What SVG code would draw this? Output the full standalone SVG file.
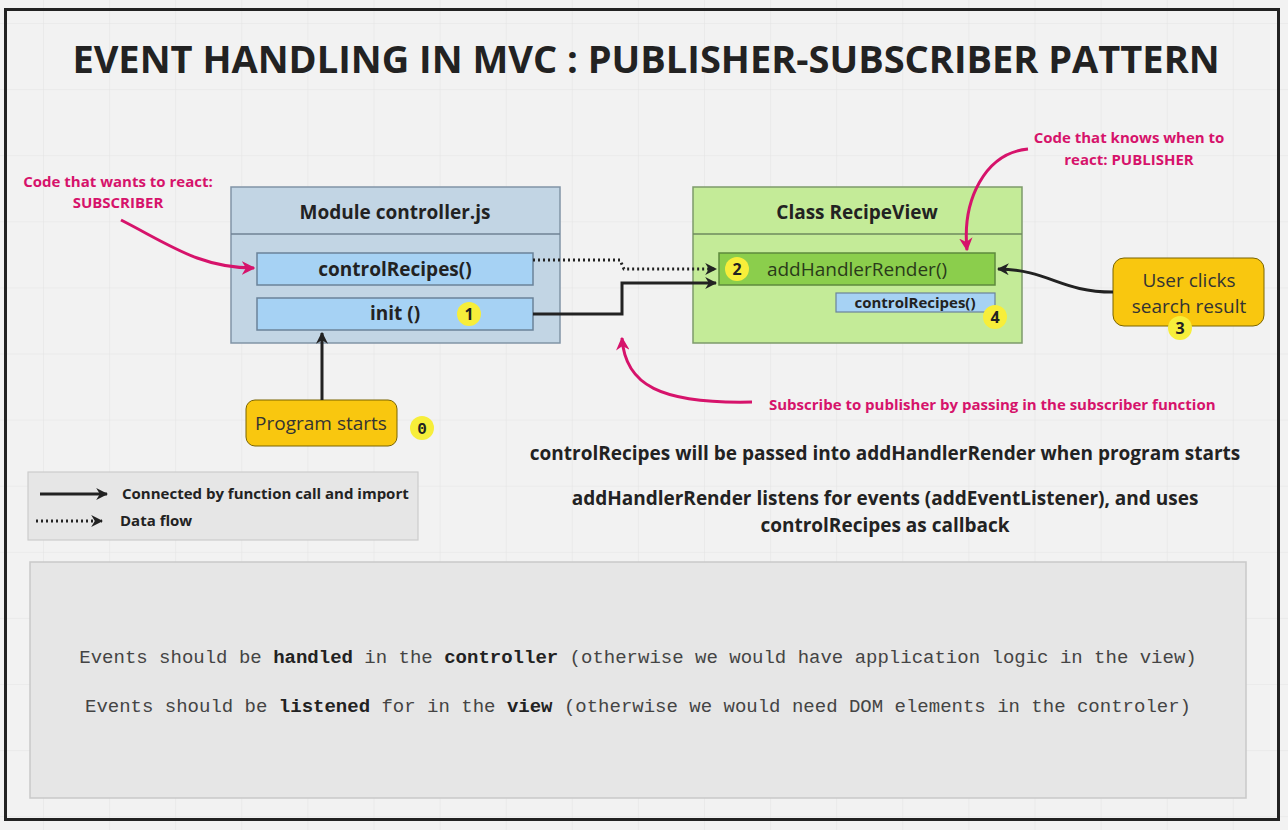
<svg xmlns="http://www.w3.org/2000/svg" width="1288" height="830" viewBox="0 0 1288 830">
<defs>
<pattern id="grid" x="43" y="23" width="66.1" height="66.1" patternUnits="userSpaceOnUse">
<path d="M0,0 V66.1 M0,0 H66.1" fill="none" stroke="#e4e4e4" stroke-width="1.2"/>
</pattern>
<marker id="ab" viewBox="0 0 10 10" refX="9" refY="5" markerWidth="4" markerHeight="4" orient="auto" markerUnits="strokeWidth">
<path d="M0,0 L10,5 L0,10 L3,5 z" fill="#222"/>
</marker>
<marker id="ap" viewBox="0 0 10 10" refX="9" refY="5" markerWidth="4.5" markerHeight="4.5" orient="auto" markerUnits="strokeWidth">
<path d="M0,0 L10,5 L0,10 L3,5 z" fill="#d6136b"/>
</marker>
<style>
.sans{font-family:"Open Sans","Noto Sans","Liberation Sans",sans-serif}
.mono{font-family:"Liberation Mono","DejaVu Sans Mono",monospace}
.hdr{font-size:19px;font-weight:700;fill:#222;text-anchor:middle}
.pink{font-size:15px;font-weight:700;fill:#d6136b;text-anchor:middle}
.mid{font-size:19px;font-weight:700;fill:#222;text-anchor:middle}
.badge{fill:#f7ee3a}
.bt{font-size:16px;font-weight:700;fill:#222;text-anchor:middle}
.blk{fill:none;stroke:#222;stroke-width:3}
.dot{fill:none;stroke:#222;stroke-width:3;stroke-dasharray:2 3}
.pk{fill:none;stroke:#d6136b;stroke-width:3}
.yb{fill:#f9c70f;stroke:#7a6400;stroke-width:1}
.yt{font-size:19px;fill:#333;text-anchor:middle}
</style>
</defs>
<rect x="0" y="0" width="1288" height="830" fill="#f2f2f2"/>
<rect x="0" y="0" width="1288" height="830" fill="url(#grid)"/>
<rect x="5.5" y="9.5" width="1273" height="810" fill="none" stroke="#222" stroke-width="3"/>

<text class="sans" x="646" y="73" font-size="38" font-weight="700" fill="#222" text-anchor="middle">EVENT HANDLING IN MVC : PUBLISHER-SUBSCRIBER PATTERN</text>

<g id="controller">
<rect x="231" y="187" width="329" height="156" fill="#c2d5e4" stroke="#8194a6" stroke-width="1.5"/>
<line x1="231" y1="234" x2="560" y2="234" stroke="#6f8294" stroke-width="1.5"/>
<text class="sans hdr" x="395" y="219">Module controller.js</text>
</g>
<g id="controlRecipes">
<rect x="257" y="253" width="276" height="32" fill="#a6d2f4" stroke="#6b8399" stroke-width="1.5"/>
<text class="sans hdr" x="395" y="276">controlRecipes()</text>
</g>
<g id="init">
<rect x="257" y="298" width="276" height="32" fill="#a6d2f4" stroke="#6b8399" stroke-width="1.5"/>
<text class="sans hdr" x="395" y="320">init ()</text>
<circle class="badge" cx="469" cy="314" r="12"/>
<text class="sans bt" x="469" y="320">1</text>
</g>

<g id="recipeView">
<rect x="693" y="187" width="329" height="156" fill="#c4eb98" stroke="#7d9a6b" stroke-width="1.5"/>
<line x1="693" y1="234" x2="1022" y2="234" stroke="#6e8a5e" stroke-width="1.5"/>
<text class="sans hdr" x="857" y="219">Class RecipeView</text>
</g>
<g id="addHandlerRender">
<rect x="719" y="253" width="276" height="32" fill="#8bce4c" stroke="#5e8a3c" stroke-width="1.5"/>
<text class="sans" x="857" y="276" font-size="19" fill="#2a3a1a" text-anchor="middle">addHandlerRender()</text>
<circle class="badge" cx="737" cy="269" r="12"/>
<text class="sans bt" x="737" y="275">2</text>
</g>
<g id="controlRecipesView">
<rect x="836" y="293" width="159" height="19" fill="#a6d2f4" stroke="#6b8399" stroke-width="1.2"/>
<text class="sans" x="915" y="308" font-size="15" font-weight="700" fill="#222" text-anchor="middle">controlRecipes()</text>
<circle class="badge" cx="995" cy="317" r="12"/>
<text class="sans bt" x="995" y="323">4</text>
</g>

<g id="userClicks">
<rect class="yb" x="1113" y="258" width="151" height="68" rx="11"/>
<text class="sans yt" x="1189" y="287">User clicks</text>
<text class="sans yt" x="1189" y="313">search result</text>
<circle class="badge" cx="1180" cy="328" r="12"/>
<text class="sans bt" x="1180" y="334">3</text>
</g>

<g id="programStarts">
<rect class="yb" x="246" y="400" width="151" height="46" rx="9"/>
<text class="sans yt" x="321" y="430">Program starts</text>
<circle class="badge" cx="422" cy="428" r="12"/>
<text class="mono" x="422" y="434" font-size="16" font-weight="700" fill="#222" text-anchor="middle">0</text>
</g>

<g id="connectors">
<path class="blk" d="M322,400 V333" marker-end="url(#ab)"/>
<path class="blk" d="M533,314 H622 V283 H716" marker-end="url(#ab)"/>
<path class="dot" d="M533,260 H620 L624,269 H716" marker-end="url(#ab)"/>
<path class="blk" d="M1113,292 C1060,292 1050,270 998,269" marker-end="url(#ab)"/>
<path class="pk" d="M121,220 C170,245 200,268 254,268" marker-end="url(#ap)"/>
<path class="pk" d="M1028,149 C985,153 962,200 967,250" marker-end="url(#ap)"/>
<path class="pk" d="M752,402 C660,404 625,385 622,338" marker-end="url(#ap)"/>
</g>

<g id="labels">
<text class="sans pink" x="118" y="187">Code that wants to react:</text>
<text class="sans pink" x="118" y="208">SUBSCRIBER</text>
<text class="sans pink" x="1129" y="143">Code that knows when to</text>
<text class="sans pink" x="1129" y="165">react: PUBLISHER</text>
<text class="sans" x="769" y="410" font-size="15" font-weight="700" fill="#d6136b">Subscribe to publisher by passing in the subscriber function</text>
<text class="sans mid" x="885" y="460">controlRecipes will be passed into addHandlerRender when program starts</text>
<text class="sans mid" x="885" y="505">addHandlerRender listens for events (addEventListener), and uses</text>
<text class="sans mid" x="885" y="532">controlRecipes as callback</text>
</g>

<g id="legend">
<rect x="28" y="472" width="390" height="68" fill="#e6e6e6" stroke="#cccccc" stroke-width="1.2"/>
<path class="blk" d="M40,494 H107" marker-end="url(#ab)"/>
<text class="sans" x="122" y="499" font-size="15" font-weight="700" fill="#222">Connected by function call and import</text>
<path class="dot" d="M36,521 H102" marker-end="url(#ab)"/>
<text class="sans" x="120" y="526" font-size="15" font-weight="700" fill="#222">Data flow</text>
</g>

<g id="notes">
<rect x="30" y="562" width="1216" height="236" fill="#e6e6e6" stroke="#c9c9c9" stroke-width="1.5"/>
<text class="mono" x="638" y="663" font-size="19" fill="#444" text-anchor="middle">Events should be <tspan font-weight="700" fill="#222">handled</tspan> in the <tspan font-weight="700" fill="#222">controller</tspan> (otherwise we would have application logic in the view)</text>
<text class="mono" x="638" y="712" font-size="19" fill="#444" text-anchor="middle">Events should be <tspan font-weight="700" fill="#222">listened</tspan> for in the <tspan font-weight="700" fill="#222">view</tspan> (otherwise we would need DOM elements in the controler)</text>
</g>
</svg>
